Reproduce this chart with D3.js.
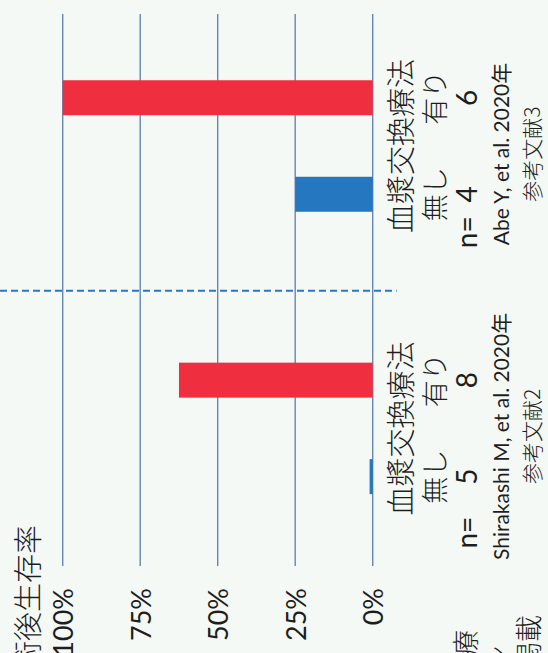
<!DOCTYPE html>
<html>
<head>
<meta charset="utf-8">
<script src="https://cdn.jsdelivr.net/npm/d3@7"></script>
<style>
  html, body { margin: 0; padding: 0; background: #f5f9f6; }
  svg { display: block; }
  text { fill: #1e1e1e; }
</style>
</head>
<body>
<svg id="chart" width="548" height="653"></svg>
<script>
// Studies compared (one cluster each)
const studies = ["Shirakashi", "Abe"];
const studyRefs = ["Shirakashi M, et al. 2020年", "Abe Y, et al. 2020年"];
const studyCites = ["参考文献2", "参考文献3"];
// Plasma exchange: without / with
const arms = ["無し", "有り"];
const survivalWithout = [1, 25];     // % survival, no plasma exchange
const survivalWith = [62.5, 100];    // % survival, with plasma exchange
const nWithout = [5, 4];
const nWith = [8, 6];
const tickValues = [0, 25, 50, 75, 100];
const tickLabels = ["0%", "25%", "50%", "75%", "100%"];
const axisTitle = "術後生存率";
const groupTitle = "血漿交換療法";
// Text fragments running off the bottom edge
const edgeTexts = ["治療", "ン", "論文掲載"];

const CJK = "'Noto Sans CJK JP', 'Noto Sans', sans-serif";
const LATIN = "Lato, 'Noto Sans CJK JP', sans-serif";
const colors = { "無し": "#2577c0", "有り": "#ef2f40" };

// The chart is laid out as a normal column chart in a 653 x 548 frame,
// then turned a quarter turn counter-clockwise onto the page.
const svg = d3.select("#chart");
const g = svg.append("g").attr("transform", "translate(0,653) rotate(-90)");

const y = d3.scaleLinear().domain([0, 100]).range([372.7, 62.7]);
const x0 = d3.scaleBand().domain(studies).range([83.4, 648.2]);
const x1 = d3.scalePoint().domain(arms).range([0, x0.bandwidth()]).padding(0.963);
const barW = 35;

// Gridlines
g.append("g").selectAll("line").data(tickValues).join("line")
  .attr("x1", 87).attr("x2", 639)
  .attr("y1", d => y(d)).attr("y2", d => y(d))
  .attr("stroke", "#6688b0").attr("stroke-width", 1.4);

// Divider between the two studies
const divX = x0(studies[1]) - 3.5;
g.append("line")
  .attr("x1", divX).attr("x2", divX)
  .attr("y1", 0).attr("y2", 396.7)
  .attr("stroke", "#2e75c6").attr("stroke-width", 2)
  .attr("stroke-dasharray", "7,4");

// Bars
const rows = [];
studies.forEach((s, i) => {
  rows.push({ study: s, arm: arms[0], value: survivalWithout[i], n: nWithout[i] });
  rows.push({ study: s, arm: arms[1], value: survivalWith[i], n: nWith[i] });
});
g.append("g").selectAll("rect").data(rows).join("rect")
  .attr("x", d => x0(d.study) + x1(d.arm) - barW / 2)
  .attr("y", d => y(d.value))
  .attr("width", barW)
  .attr("height", d => y(0) - y(d.value))
  .attr("fill", d => colors[d.arm]);

// Value axis labels
g.append("g").selectAll("text").data(tickValues).join("text")
  .attr("x", 65).attr("y", d => y(d))
  .attr("text-anchor", "end").attr("dominant-baseline", "central")
  .style("font-family", LATIN).style("font-size", "27px")
  .text((d, i) => tickLabels[i]);

// Axis title
g.append("text")
  .attr("x", 128).attr("y", 26)
  .attr("text-anchor", "end").attr("dominant-baseline", "central")
  .style("font-family", CJK).style("font-size", "29px").style("font-weight", 300)
  .text(axisTitle);

// Category labels
const nPrefixGap = [56, 38];
studies.forEach((s, i) => {
  const gc = x0(s) + x0.bandwidth() / 2;
  g.append("text")
    .attr("x", gc).attr("y", 399)
    .attr("text-anchor", "middle").attr("dominant-baseline", "central")
    .style("font-family", CJK).style("font-size", "29px").style("font-weight", 300)
    .text(groupTitle);
  g.append("text")
    .attr("x", x0(s) + x1(arms[0]) - nPrefixGap[i]).attr("y", 477)
    .attr("text-anchor", "middle")
    .style("font-family", LATIN).style("font-size", "28px")
    .text("n=");
  g.append("text")
    .attr("x", gc - 8).attr("y", 509)
    .attr("text-anchor", "middle")
    .style("font-family", LATIN).style("font-size", "21px")
    .text(studyRefs[i]);
  g.append("text")
    .attr("x", gc - 8).attr("y", 531)
    .attr("text-anchor", "middle").attr("dominant-baseline", "central")
    .style("font-family", CJK).style("font-size", "21px").style("font-weight", 300)
    .text(studyCites[i]);
});

g.append("g").selectAll("text").data(rows).join("text")
  .attr("x", d => x0(d.study) + x1(d.arm)).attr("y", 433)
  .attr("text-anchor", "middle").attr("dominant-baseline", "central")
  .style("font-family", CJK).style("font-size", "27px").style("font-weight", 300)
  .text(d => d.arm);

g.append("g").selectAll("text").data(rows).join("text")
  .attr("x", d => x0(d.study) + x1(d.arm)).attr("y", 477)
  .attr("text-anchor", "middle")
  .style("font-family", LATIN).style("font-size", "28px")
  .text(d => d.n);

// Fragments at the bottom edge
const edgePos = [[23, 464, 27], [8, 497, 27], [38, 527, 27]];
g.append("g").selectAll("text").data(edgeTexts).join("text")
  .attr("x", (d, i) => edgePos[i][0]).attr("y", (d, i) => edgePos[i][1])
  .attr("text-anchor", "end").attr("dominant-baseline", "central")
  .style("font-family", CJK).style("font-size", (d, i) => edgePos[i][2] + "px").style("font-weight", 300)
  .text(d => d);
</script>
</body>
</html>
